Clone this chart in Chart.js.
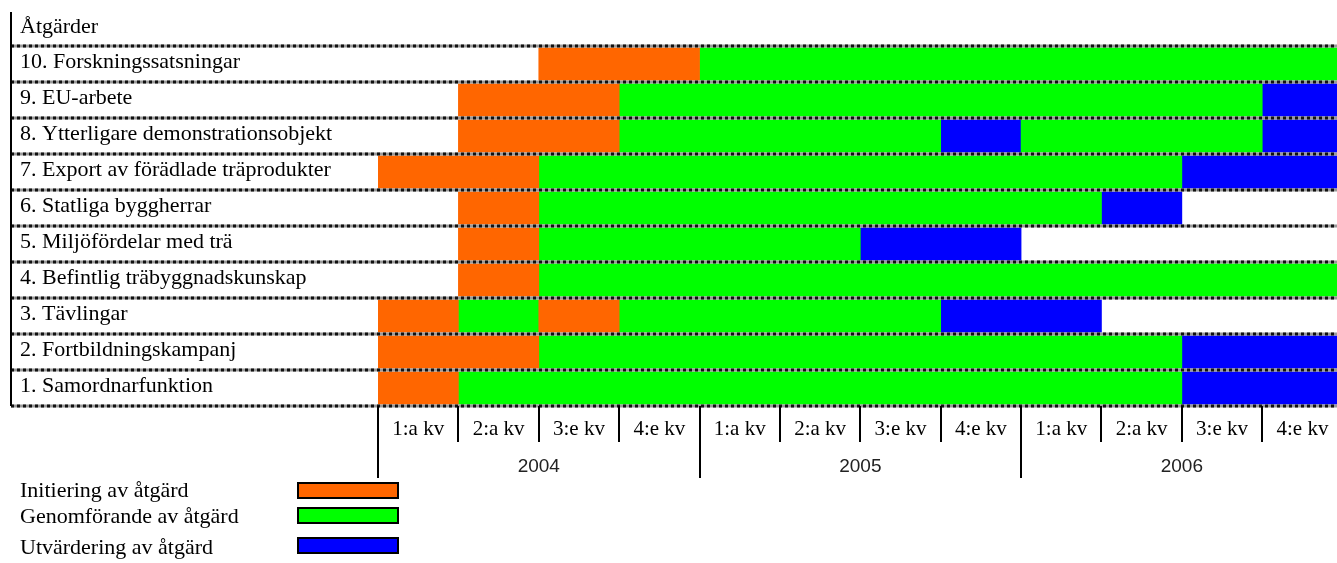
<!DOCTYPE html>
<html lang="sv">
<head>
<meta charset="utf-8">
<title>Åtgärder 2004–2006</title>
<script src="https://cdn.jsdelivr.net/npm/chart.js@4.4.1/dist/chart.umd.min.js"></script>
<style>
  html, body { margin: 0; padding: 0; background: #fff; }
  #wrap { width: 1337px; height: 563px; }
</style>
</head>
<body>
<div id="wrap"><canvas id="plan" width="1337" height="563"></canvas></div>
<script>
// Actions, top to bottom
const rows = [
  "10. Forskningssatsningar",
  "9. EU-arbete",
  "8. Ytterligare demonstrationsobjekt",
  "7. Export av förädlade träprodukter",
  "6. Statliga byggherrar",
  "5. Miljöfördelar med trä",
  "4. Befintlig träbyggnadskunskap",
  "3. Tävlingar",
  "2. Fortbildningskampanj",
  "1. Samordnarfunktion"
];

// Quarter index 0 = 1:a kv 2004 ... 12 = end of 2006. One list of [start, end] periods per action.
const initiering = [
  [[2, 4]], [[1, 3]], [[1, 3]], [[0, 2]], [[1, 2]],
  [[1, 2]], [[1, 2]], [[0, 1], [2, 3]], [[0, 2]], [[0, 1]]
];
const genomforande = [
  [[4, 12]], [[3, 11]], [[3, 7], [8, 11]], [[2, 10]], [[2, 9]],
  [[2, 6]], [[2, 12]], [[1, 2], [3, 7]], [[2, 10]], [[1, 10]]
];
const utvardering = [
  [[11, 12]], [[11, 12]], [[7, 8], [11, 12]], [[10, 12]], [[9, 10]],
  [[6, 8]], [], [[7, 9]], [[10, 12]], [[10, 12]]
];

const quarterLabels = ["1:a kv", "2:a kv", "3:e kv", "4:e kv"];
const years = ["2004", "2005", "2006"];

const phaseNames = ["Initiering av åtgärd", "Genomförande av åtgärd", "Utvärdering av åtgärd"];
const phaseColors = ["#FF6600", "#00FF00", "#0000FF"];

const SERIF = "'Liberation Serif', 'Times New Roman', serif";
const SANS = "'Liberation Sans', Arial, sans-serif";

// One dataset per phase and per period slot, so a row may hold two periods of the same phase
function phaseDatasets(periods, name, color) {
  const slots = Math.max(...periods.map(p => p.length));
  const sets = [];
  for (let s = 0; s < slots; s++) {
    sets.push({
      label: name,
      data: periods.map(p => p[s] || null),
      backgroundColor: color,
      borderWidth: 0,
      borderSkipped: false,
      barPercentage: 1,
      categoryPercentage: 1
    });
  }
  return sets;
}

const datasets = [
  ...phaseDatasets(initiering, phaseNames[0], phaseColors[0]),
  ...phaseDatasets(genomforande, phaseNames[1], phaseColors[1]),
  ...phaseDatasets(utvardering, phaseNames[2], phaseColors[2])
];

// Table frame, time axis and legend drawn from the chart's own scales
const tablePlugin = {
  id: "tableFrame",
  afterDraw(chart) {
    const ctx = chart.ctx;
    const xs = chart.scales.x;
    const ys = chart.scales.y;
    const W = chart.width;
    const frameX = 11;

    ctx.save();

    // row separators
    const step = ys.getPixelForValue(1) - ys.getPixelForValue(0);
    const bounds = [];
    for (let i = 0; i < rows.length; i++) bounds.push(ys.getPixelForValue(i) - step / 2);
    bounds.push(ys.getPixelForValue(rows.length - 1) + step / 2);
    bounds.forEach(y => {
      ctx.fillStyle = "#fff";
      ctx.fillRect(frameX, y - 1.5, W - frameX, 3);
      ctx.strokeStyle = "#999";
      ctx.lineWidth = 3;
      ctx.setLineDash([]);
      ctx.beginPath(); ctx.moveTo(frameX, y); ctx.lineTo(W, y); ctx.stroke();
      ctx.strokeStyle = "#111";
      ctx.setLineDash([3, 3]);
      ctx.beginPath(); ctx.moveTo(frameX, y); ctx.lineTo(W, y); ctx.stroke();
    });
    ctx.setLineDash([]);

    // left frame line
    const bottom = bounds[bounds.length - 1];
    ctx.strokeStyle = "#000";
    ctx.lineWidth = 2;
    ctx.beginPath(); ctx.moveTo(frameX, 12); ctx.lineTo(frameX, bottom); ctx.stroke();

    // header
    ctx.fillStyle = "#000";
    ctx.font = "22px " + SERIF;
    ctx.textAlign = "left";
    ctx.textBaseline = "alphabetic";
    ctx.fillText("Åtgärder", 20, 33);

    // time axis below the table
    const nQ = years.length * quarterLabels.length;
    ctx.lineWidth = 2;
    for (let q = 0; q <= nQ; q++) {
      const x = Math.round(xs.getPixelForValue(q));
      if (x > W) continue;
      const end = q % 4 === 0 ? bottom + 72 : bottom + 36;
      ctx.beginPath(); ctx.moveTo(x, bottom); ctx.lineTo(x, end); ctx.stroke();
    }
    ctx.font = "21px " + SERIF;
    ctx.textAlign = "center";
    for (let q = 0; q < nQ; q++) {
      const x = (xs.getPixelForValue(q) + xs.getPixelForValue(q + 1)) / 2;
      ctx.fillText(quarterLabels[q % 4], x, bottom + 29);
    }
    ctx.font = "19px " + SANS;
    ctx.fillStyle = "#222";
    years.forEach((yr, k) => {
      const x = (xs.getPixelForValue(k * 4) + xs.getPixelForValue(k * 4 + 4)) / 2;
      ctx.fillText(yr, x, bottom + 66);
    });

    // legend
    const baselines = [497, 523, 554];
    const boxTops = [483, 508, 538];
    ctx.textAlign = "left";
    ctx.font = "22px " + SERIF;
    phaseNames.forEach((name, k) => {
      ctx.fillStyle = "#000";
      ctx.fillText(name, 20, baselines[k]);
      ctx.fillStyle = phaseColors[k];
      ctx.fillRect(298, boxTops[k], 100, 15);
      ctx.strokeStyle = "#000";
      ctx.lineWidth = 2;
      ctx.strokeRect(298, boxTops[k], 100, 15);
    });

    ctx.restore();
  }
};

new Chart(document.getElementById("plan"), {
  type: "bar",
  data: { labels: rows, datasets },
  options: {
    indexAxis: "y",
    responsive: false,
    animation: false,
    devicePixelRatio: 1,
    layout: { padding: { left: 20, right: 0, top: 46, bottom: 157 } },
    plugins: { legend: { display: false }, tooltip: { enabled: false } },
    scales: {
      x: {
        type: "linear",
        display: false,
        min: 0,
        // the final quarter of 2006 runs slightly past the right edge
        max: 11.93
      },
      y: {
        type: "category",
        stacked: false,
        grid: { display: false },
        border: { display: false },
        afterFit(scale) { scale.width = 358; },
        ticks: {
          autoSkip: false,
          crossAlign: "far",
          color: "#000",
          font: { family: SERIF, size: 22 },
          padding: 0,
          labelOffset: -2
        }
      }
    },
    datasets: { bar: { grouped: false } }
  },
  plugins: [tablePlugin]
});
</script>
</body>
</html>
